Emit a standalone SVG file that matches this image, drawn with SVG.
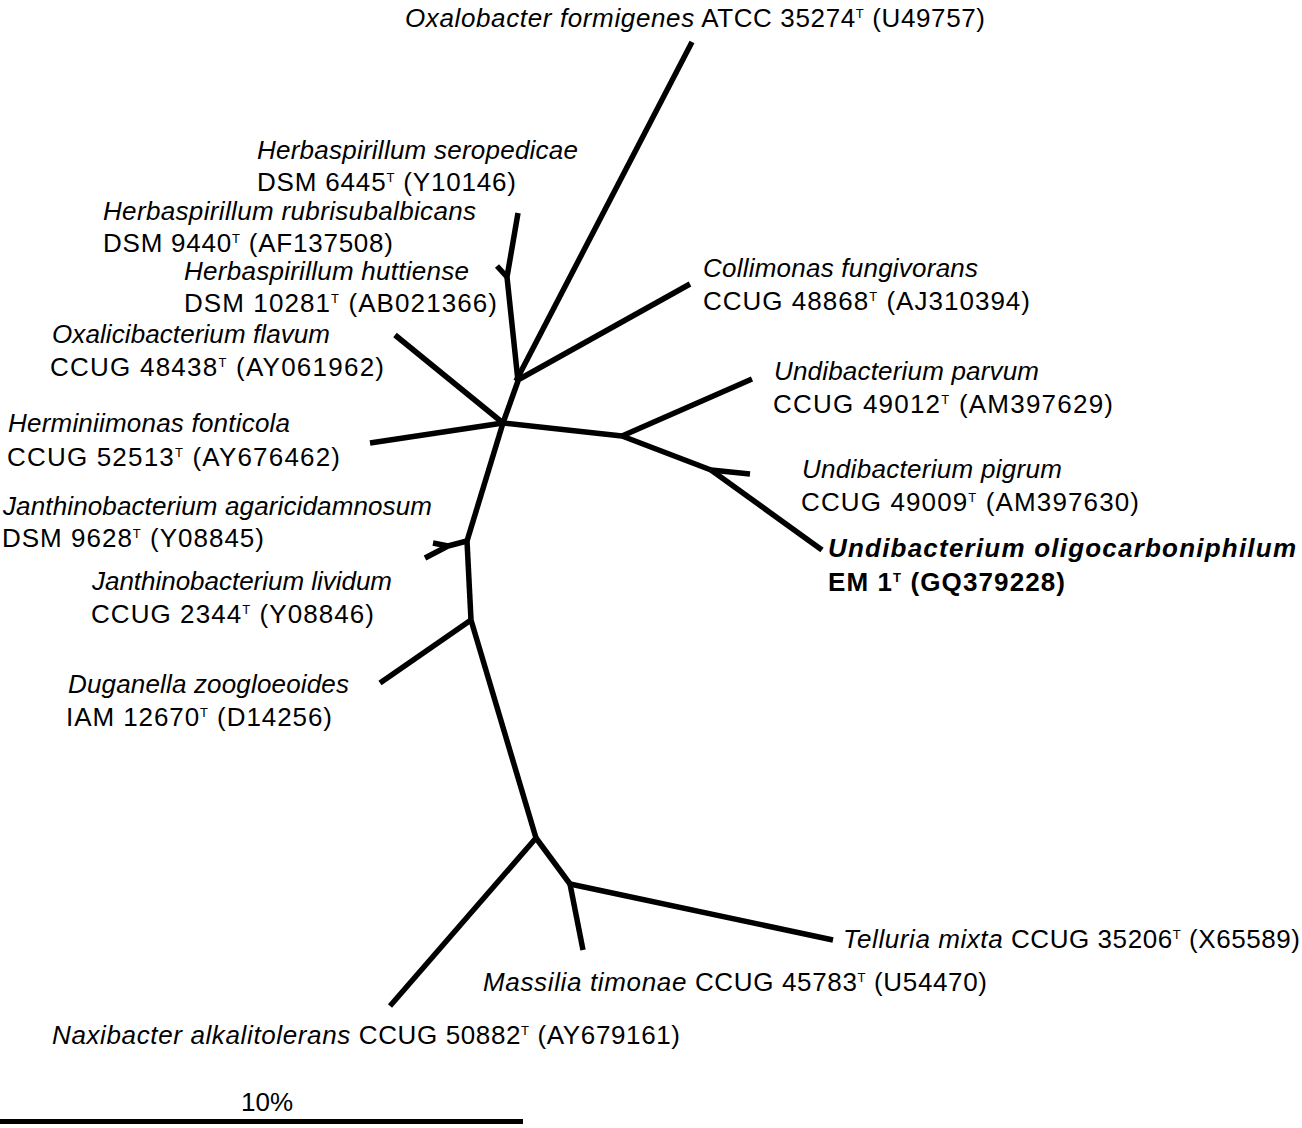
<svg xmlns="http://www.w3.org/2000/svg" width="1302" height="1128" viewBox="0 0 1302 1128">
<style>
text{font-family:"Liberation Sans",Arial,Helvetica,sans-serif;font-size:26px;fill:#000}
.i{font-style:italic}
.b{font-weight:bold}
.sup{font-size:13px}
.e{fill:none;stroke:#000;stroke-width:5.5;stroke-linecap:butt;stroke-linejoin:round}
</style>
<rect width="1302" height="1128" fill="#fff"/>
<g id="connectors">
<path class="e" d="M692,42 L516,381"/>
<path class="e" d="M516,381 L690,284"/>
<path class="e" d="M518,213 L512,248 L507,277 L518,381"/>
<path class="e" d="M507,277 L497,266"/>
<path class="e" d="M518,381 L503,423"/>
<path class="e" d="M395,335 L503,423"/>
<path class="e" d="M370,443 L503,423"/>
<path class="e" d="M503,423 L622,436"/>
<path class="e" d="M622,436 L752,379"/>
<path class="e" d="M622,436 L711,470"/>
<path class="e" d="M711,470 L750,474"/>
<path class="e" d="M711,470 L822,550"/>
<path class="e" d="M503,423 L467,541"/>
<path class="e" d="M467,541 L448,546 L425,558"/>
<path class="e" d="M448,546 L433,543"/>
<path class="e" d="M467,541 L471,620"/>
<path class="e" d="M471,620 L380,683"/>
<path class="e" d="M471,620 L536,838"/>
<path class="e" d="M536,838 L390,1006"/>
<path class="e" d="M536,838 L570,884"/>
<path class="e" d="M570,884 L833,940"/>
<path class="e" d="M570,884 L583,950"/>
</g>
<g id="n-oxalobacter"><text x="405" y="27" textLength="580" lengthAdjust="spacing"><tspan class="i">Oxalobacter formigenes</tspan> ATCC 35274<tspan class="sup" dy="-9">T</tspan><tspan dy="9"> (U49757)</tspan></text></g>
<g id="n-herb-seropedicae"><text class="i" x="257" y="159" textLength="321" lengthAdjust="spacing">Herbaspirillum seropedicae</text><text x="257" y="191" textLength="259" lengthAdjust="spacing">DSM 6445<tspan class="sup" dy="-9">T</tspan><tspan dy="9"> (Y10146)</tspan></text></g>
<g id="n-herb-rubrisubalbicans"><text class="i" x="103" y="220" textLength="373" lengthAdjust="spacing">Herbaspirillum rubrisubalbicans</text><text x="103" y="252" textLength="290" lengthAdjust="spacing">DSM 9440<tspan class="sup" dy="-9">T</tspan><tspan dy="9"> (AF137508)</tspan></text></g>
<g id="n-herb-huttiense"><text class="i" x="184" y="280" textLength="285" lengthAdjust="spacing">Herbaspirillum huttiense</text><text x="184" y="312" textLength="313" lengthAdjust="spacing">DSM 10281<tspan class="sup" dy="-9">T</tspan><tspan dy="9"> (AB021366)</tspan></text></g>
<g id="n-oxalicibacterium"><text class="i" x="52" y="343" textLength="278" lengthAdjust="spacing">Oxalicibacterium flavum</text><text x="50" y="376" textLength="334" lengthAdjust="spacing">CCUG 48438<tspan class="sup" dy="-9">T</tspan><tspan dy="9"> (AY061962)</tspan></text></g>
<g id="n-herminiimonas"><text class="i" x="8" y="432" textLength="282" lengthAdjust="spacing">Herminiimonas fonticola</text><text x="7" y="466" textLength="333" lengthAdjust="spacing">CCUG 52513<tspan class="sup" dy="-9">T</tspan><tspan dy="9"> (AY676462)</tspan></text></g>
<g id="n-janth-agaricidamnosum"><text class="i" x="3" y="515" textLength="429" lengthAdjust="spacing">Janthinobacterium agaricidamnosum</text><text x="2" y="547" textLength="262" lengthAdjust="spacing">DSM 9628<tspan class="sup" dy="-9">T</tspan><tspan dy="9"> (Y08845)</tspan></text></g>
<g id="n-janth-lividum"><text class="i" x="92" y="590" textLength="300" lengthAdjust="spacing">Janthinobacterium lividum</text><text x="91" y="623" textLength="283" lengthAdjust="spacing">CCUG 2344<tspan class="sup" dy="-9">T</tspan><tspan dy="9"> (Y08846)</tspan></text></g>
<g id="n-duganella"><text class="i" x="68" y="693" textLength="281" lengthAdjust="spacing">Duganella zoogloeoides</text><text x="66" y="726" textLength="266" lengthAdjust="spacing">IAM 12670<tspan class="sup" dy="-9">T</tspan><tspan dy="9"> (D14256)</tspan></text></g>
<g id="n-collimonas"><text class="i" x="703" y="277" textLength="275" lengthAdjust="spacing">Collimonas fungivorans</text><text x="703" y="310" textLength="327" lengthAdjust="spacing">CCUG 48868<tspan class="sup" dy="-9">T</tspan><tspan dy="9"> (AJ310394)</tspan></text></g>
<g id="n-undi-parvum"><text class="i" x="774" y="380" textLength="265" lengthAdjust="spacing">Undibacterium parvum</text><text x="773" y="413" textLength="340" lengthAdjust="spacing">CCUG 49012<tspan class="sup" dy="-9">T</tspan><tspan dy="9"> (AM397629)</tspan></text></g>
<g id="n-undi-pigrum"><text class="i" x="802" y="478" textLength="260" lengthAdjust="spacing">Undibacterium pigrum</text><text x="801" y="511" textLength="338" lengthAdjust="spacing">CCUG 49009<tspan class="sup" dy="-9">T</tspan><tspan dy="9"> (AM397630)</tspan></text></g>
<g id="n-undi-oligocarboniphilum"><text class="b i" x="828" y="557" textLength="468" lengthAdjust="spacing">Undibacterium oligocarboniphilum</text><text class="b" x="828" y="591" textLength="237" lengthAdjust="spacing">EM 1<tspan class="sup" dy="-9">T</tspan><tspan dy="9"> (GQ379228)</tspan></text></g>
<g id="n-telluria"><text x="843" y="948" textLength="457" lengthAdjust="spacing"><tspan class="i">Telluria mixta</tspan> CCUG 35206<tspan class="sup" dy="-9">T</tspan><tspan dy="9"> (X65589)</tspan></text></g>
<g id="n-massilia"><text x="483" y="991" textLength="504" lengthAdjust="spacing"><tspan class="i">Massilia timonae</tspan> CCUG 45783<tspan class="sup" dy="-9">T</tspan><tspan dy="9"> (U54470)</tspan></text></g>
<g id="n-naxibacter"><text x="52" y="1044" textLength="628" lengthAdjust="spacing"><tspan class="i">Naxibacter alkalitolerans</tspan> CCUG 50882<tspan class="sup" dy="-9">T</tspan><tspan dy="9"> (AY679161)</tspan></text></g>
<g id="scale-bar"><text x="241" y="1111" textLength="52" lengthAdjust="spacing">10%</text><line x1="0" y1="1121.5" x2="523" y2="1121.5" stroke="#000" stroke-width="5"/></g>
</svg>
